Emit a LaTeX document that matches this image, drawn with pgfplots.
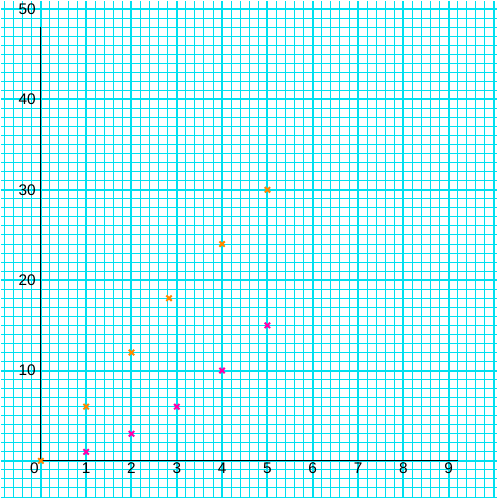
\documentclass[border=0pt]{standalone}
\usepackage{pgfplots}
\pgfplotsset{compat=1.18}
\usepackage{fontspec}
\setmainfont{Liberation Sans}
\definecolor{gridcyan}{RGB}{0,224,240}
\definecolor{ptorange}{RGB}{255,136,0}
\definecolor{ptmagenta}{RGB}{255,0,170}
\begin{document}
\begin{tikzpicture}
\begin{axis}[
  scale only axis,
  width=498bp, height=498bp,
  xmin=-0.879, xmax=10.066,
  ymin=-4.0, ymax=50.9,
  axis lines=middle,
  axis line style={draw=none},
  hide obscured x ticks=false,
  hide obscured y ticks=false,
  xtick={0,...,10},
  xticklabels={0\hspace*{13bp},1,2,3,4,5,6,7,8,9,{}},
  ytick={0,10,...,50},
  yticklabels={{},10,20,30,40,50},
  minor xtick={-0.8,-0.6,...,10},
  minor ytick={-4,...,50},
  major tick length=0pt, minor tick length=0pt,
  grid=both,
  major grid style={draw=gridcyan, line width=2bp},
  minor grid style={draw=gridcyan, line width=1bp},
  tick label style={font=\fontsize{15.5}{18}\selectfont, inner sep=0pt},
  xticklabel style={anchor=north, yshift=-1.5bp},
  yticklabel style={anchor=east, xshift=-5bp},
  clip=false,
]
\addplot[black, line width=1bp, mark=none] coordinates {(0,0) (0,48)};
\addplot[black, line width=1bp, mark=none] coordinates {(0,0) (9.2,0)};
\addplot[only marks, mark=x, mark size=3.8bp, line width=2bp, color=ptorange]
  coordinates {(0,0) (1,6) (2,12) (2.83,18) (4,24) (5,30)};
\addplot[only marks, mark=x, mark size=3.8bp, line width=2bp, color=ptmagenta]
  coordinates {(1,1) (2,3) (3,6) (4,10) (5,15)};
\end{axis}
\end{tikzpicture}
\end{document}
